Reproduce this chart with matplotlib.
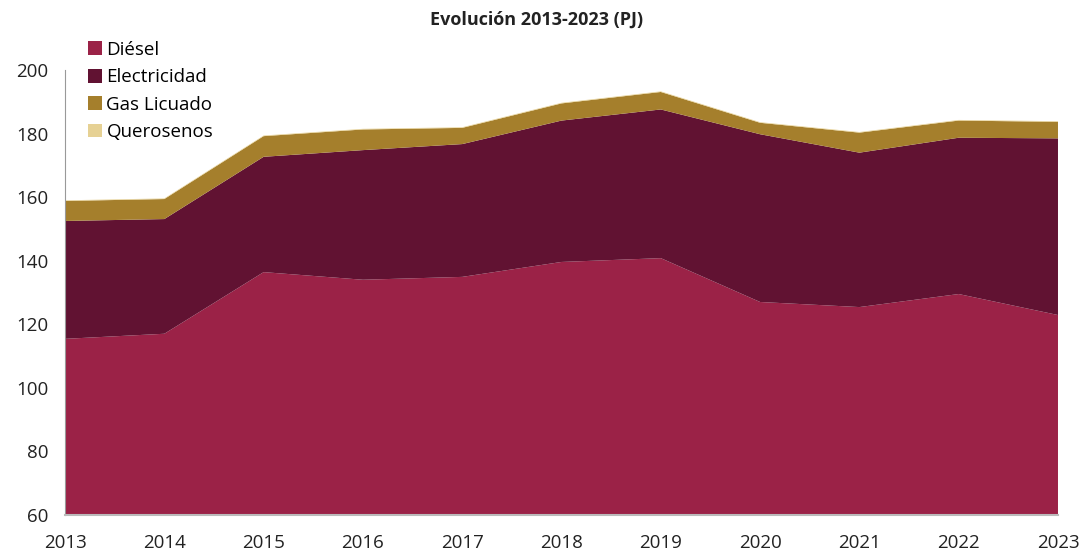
import matplotlib.pyplot as plt
import numpy as np

years = [2013, 2014, 2015, 2016, 2017, 2018, 2019, 2020, 2021, 2022, 2023]
diesel = [115.4, 117.0, 136.4, 134.0, 134.9, 139.6, 140.8, 127.0, 125.4, 129.5, 122.9]
electricidad = [37.1, 36.1, 36.3, 40.8, 41.8, 44.5, 46.8, 52.8, 48.6, 49.2, 55.6]
gas_licuado = [6.3, 6.3, 6.5, 6.5, 5.1, 5.4, 5.5, 3.6, 6.3, 5.4, 5.2]
querosenos = [0.2, 0.2, 0.2, 0.2, 0.2, 0.2, 0.2, 0.2, 0.2, 0.2, 0.2]

labels = ['Diésel', 'Electricidad', 'Gas Licuado', 'Querosenos']
colors = ['#9B2247', '#611232', '#A57F2C', '#E6D194']

plt.rcParams['font.family'] = ['Open Sans', 'DejaVu Sans']

fig = plt.figure(figsize=(10.84, 5.56), dpi=100)
ax = fig.add_axes([0.06, 0.074, 0.916, 0.8])

ax.stackplot(years, diesel, electricidad, gas_licuado, querosenos,
             colors=colors, labels=labels)

ax.set_xlim(2013, 2023)
ax.set_ylim(60, 200)
ax.set_yticks(np.arange(60, 201, 20))
ax.set_xticks(years)
ax.tick_params(axis='both', length=0, labelsize=13.5, colors='#222222')
ax.tick_params(axis='x', pad=14)
ax.tick_params(axis='y', pad=12)

for side in ['top', 'right']:
    ax.spines[side].set_visible(False)
ax.spines['left'].set_color('#999999')
ax.spines['bottom'].set_color('#bbbbbb')
ax.spines['bottom'].set_linewidth(1.5)

fig.text(0.495, 0.965, 'Evolución 2013-2023 (PJ)', ha='center', va='center',
         fontsize=13, fontweight='bold', color='#222222')

leg = ax.legend(loc='upper left', bbox_to_anchor=(0.074, 0.94), bbox_transform=fig.transFigure,
                frameon=False, fontsize=13.5, handlelength=0.75, handleheight=0.75,
                handletextpad=0.25, labelspacing=0.5, borderaxespad=0)

plt.savefig('out.png', dpi=100)
